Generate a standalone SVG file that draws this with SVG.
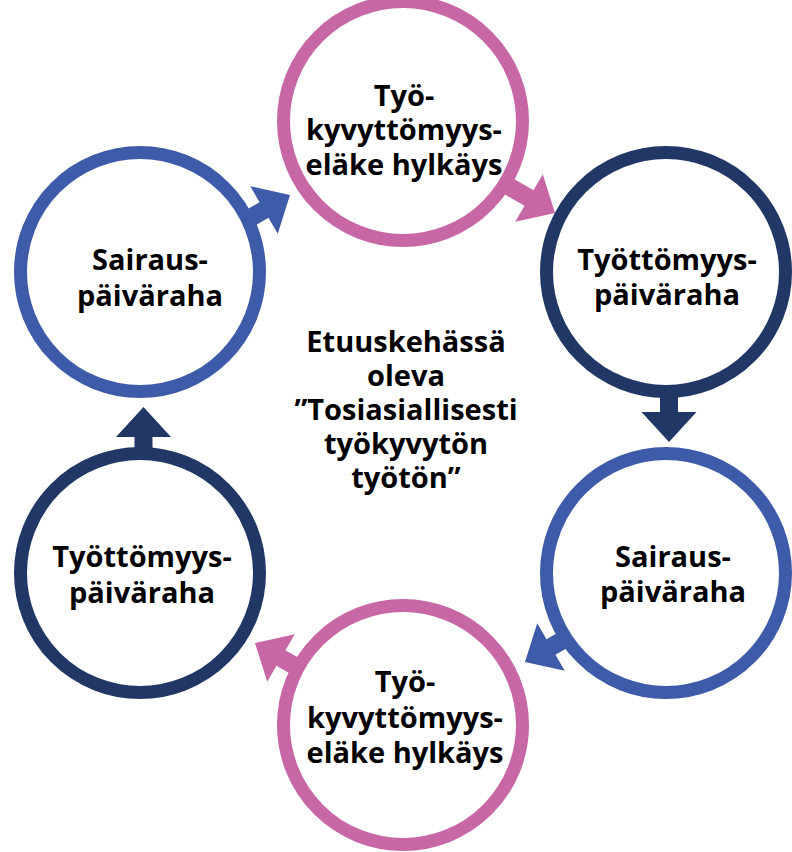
<svg xmlns="http://www.w3.org/2000/svg" width="792" height="852" viewBox="0 0 792 852">
<style>
.ring{fill:#fff;stroke-width:13}
.pink{stroke:#C867A5}
.navy{stroke:#213766}
.blue{stroke:#3E5BA9}
.t{font-family:"Open Sans","Noto Sans","Liberation Sans",sans-serif;font-weight:700;font-size:29px;fill:#000;text-anchor:middle}
</style>
<defs>
<polygon id="arr" points="-75,-9 -30,-9 -30,-27.5 0,0 -30,27.5 -30,9 -75,9"/>
</defs>
<rect width="792" height="852" fill="#fff"/>
<g id="connectors">
<use href="#arr" fill="#3E5BA9" transform="translate(290,195) rotate(-30)"/>
<use href="#arr" fill="#C867A5" transform="translate(555,213) rotate(30)"/>
<use href="#arr" fill="#213766" transform="translate(669,442) rotate(90)"/>
<use href="#arr" fill="#3E5BA9" transform="translate(525,662) rotate(150)"/>
<use href="#arr" fill="#C867A5" transform="translate(255,643) rotate(210)"/>
<use href="#arr" fill="#213766" transform="translate(143.5,407) rotate(-90)"/>
</g>
<g id="node-top">
<circle class="ring pink" cx="403" cy="121" r="119.5"/>
<text class="t" x="404" y="106">Työ-</text>
<text class="t" x="404" y="140">kyvyttömyys-</text>
<text class="t" x="404" y="175">eläke hylkäys</text>
</g>
<g id="node-upper-right">
<circle class="ring navy" cx="666" cy="272" r="119.5"/>
<text class="t" x="667" y="270">Työttömyys-</text>
<text class="t" x="667" y="305">päiväraha</text>
</g>
<g id="node-lower-right">
<circle class="ring blue" cx="666" cy="573" r="119.5"/>
<text class="t" x="673" y="567">Sairaus-</text>
<text class="t" x="673" y="602">päiväraha</text>
</g>
<g id="node-bottom">
<circle class="ring pink" cx="403" cy="725" r="119.5"/>
<text class="t" x="405" y="692">Työ-</text>
<text class="t" x="405" y="728">kyvyttömyys-</text>
<text class="t" x="405" y="763">eläke hylkäys</text>
</g>
<g id="node-lower-left">
<circle class="ring navy" cx="140" cy="573" r="119.5"/>
<text class="t" x="142" y="567">Työttömyys-</text>
<text class="t" x="142" y="603">päiväraha</text>
</g>
<g id="node-upper-left">
<circle class="ring blue" cx="140" cy="272" r="119.5"/>
<text class="t" x="150" y="270">Sairaus-</text>
<text class="t" x="150" y="306">päiväraha</text>
</g>
<g id="center-label">
<text class="t" x="406" y="352">Etuuskehässä</text>
<text class="t" x="406" y="386">oleva</text>
<text class="t" x="406" y="420">”Tosiasiallisesti</text>
<text class="t" x="406" y="454">työkyvytön</text>
<text class="t" x="406" y="488">työtön”</text>
</g>
</svg>
